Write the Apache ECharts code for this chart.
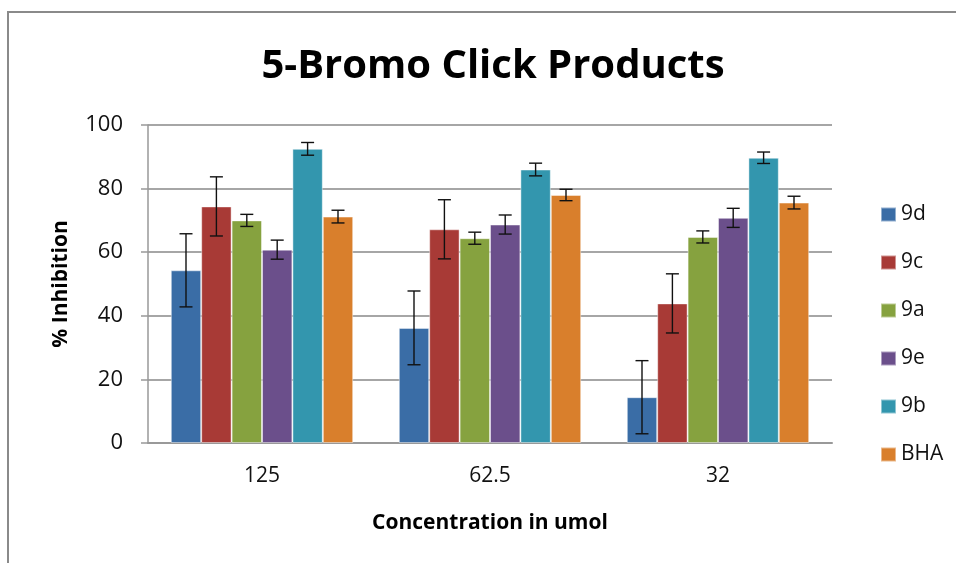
<!DOCTYPE html>
<html><head><meta charset="utf-8">
<script src="https://cdn.jsdelivr.net/npm/echarts@6/dist/echarts.min.js"></script>
<style>html,body{margin:0;padding:0;background:#fff}#c{width:956px;height:563px}</style>
</head><body><div id="c"></div>
<script>
var categories = ['125', '62.5', '32'];
var seriesNames = ['9d', '9c', '9a', '9e', '9b', 'BHA'];
var val9d = [54.3, 36.2, 14.4];
var val9c = [74.4, 67.2, 43.9];
var val9a = [70.0, 64.4, 64.8];
var val9e = [60.8, 68.7, 70.8];
var val9b = [92.5, 86.0, 89.7];
var valBHA = [71.2, 78.0, 75.6];
var err9d = [11.5, 11.6, 11.5];
var err9c = [9.3, 9.3, 9.3];
var err9a = [1.9, 1.9, 1.9];
var err9e = [3.0, 3.0, 3.0];
var err9b = [2.0, 2.0, 1.8];
var errBHA = [2.0, 1.8, 2.0];
var colors = ['#3A6DA6', '#A83A36', '#86A23F', '#6B4F8B', '#3396AE', '#D97F2C'];

var values = [val9d, val9c, val9a, val9e, val9b, valBHA];
var errors = [err9d, err9c, err9a, err9e, err9b, errBHA];
var FONT = 'Open Sans';
var nSeries = seriesNames.length;
var gapRatio = 0.2;

var series = [];
seriesNames.forEach(function (name, i) {
  series.push({
    name: name, type: 'bar', data: values[i],
    barGap: '0%', barCategoryGap: '20%',
    itemStyle: { color: colors[i], borderColor: 'rgba(255,255,255,0.45)', borderWidth: 1 },
    emphasis: { disabled: true }
  });
});
seriesNames.forEach(function (name, i) {
  series.push({
    name: name + '_err', type: 'custom', z: 10,
    data: values[i].map(function (v, k) { return [k, v, errors[i][k]]; }),
    encode: { x: 0, y: 1 },
    renderItem: function (params, api) {
      var k = api.value(0), v = api.value(1), e = api.value(2);
      var band = api.size([1, 0])[0];
      var groupW = band * (1 - gapRatio);
      var barW = groupW / nSeries;
      var c = api.coord([k, v]);
      var x = c[0] - groupW / 2 + barW * (i + 0.5);
      var yHi = api.coord([k, v + e])[1];
      var yLo = api.coord([k, v - e])[1];
      var cap = 6.5;
      var st = { stroke: '#111', lineWidth: 1.4 };
      return { type: 'group', children: [
        { type: 'line', shape: { x1: x, y1: yHi, x2: x, y2: yLo }, style: st },
        { type: 'line', shape: { x1: x - cap, y1: yHi, x2: x + cap, y2: yHi }, style: st },
        { type: 'line', shape: { x1: x - cap, y1: yLo, x2: x + cap, y2: yLo }, style: st }
      ]};
    },
    silent: true
  });
});

var chart = echarts.init(document.getElementById('c'), null, { renderer: 'canvas' });
chart.setOption({
  animation: false,
  backgroundColor: '#fff',
  graphic: [{ type: 'rect', shape: { x: 8, y: 12, width: 980, height: 600 },
    style: { fill: 'none', stroke: '#8a8a8a', lineWidth: 2 }, z: -1 }],
  title: { text: '5-Bromo Click Products', left: 488, textAlign: 'center', top: 42,
    textStyle: { fontFamily: FONT, fontWeight: 'bold', fontSize: 40, color: '#000' } },
  legend: {
    data: seriesNames, orient: 'vertical', left: 875, top: 199,
    itemWidth: 15, itemHeight: 14, itemGap: 27, icon: 'rect',
    textStyle: { fontFamily: FONT, fontSize: 21, color: '#111', lineHeight: 21 },
    selectedMode: false
  },
  grid: { left: 148, right: 124, top: 125, bottom: 120, containLabel: false },
  xAxis: {
    type: 'category', data: categories,
    axisLine: { lineStyle: { color: '#999', width: 2 } },
    axisTick: { show: false },
    axisLabel: { fontFamily: FONT, fontSize: 21, color: '#111', margin: 23 },
    name: 'Concentration in umol', nameLocation: 'middle', nameGap: 70,
    nameTextStyle: { fontFamily: FONT, fontWeight: 'bold', fontSize: 21, color: '#000' }
  },
  yAxis: {
    type: 'value', min: 0, max: 100, interval: 20,
    axisLine: { show: true, lineStyle: { color: '#999', width: 1.5 } },
    axisTick: { show: true, length: 7, lineStyle: { color: '#999', width: 1.5 } },
    splitLine: { lineStyle: { color: '#a6a6a6', width: 2 } },
    axisLabel: { fontFamily: FONT, fontSize: 22, color: '#111', margin: 25 },
    name: '% Inhibition', nameLocation: 'middle', nameGap: 76, nameRotate: 90,
    nameTextStyle: { fontFamily: FONT, fontWeight: 'bold', fontSize: 21, color: '#000' }
  },
  series: series
});
</script></body></html>
